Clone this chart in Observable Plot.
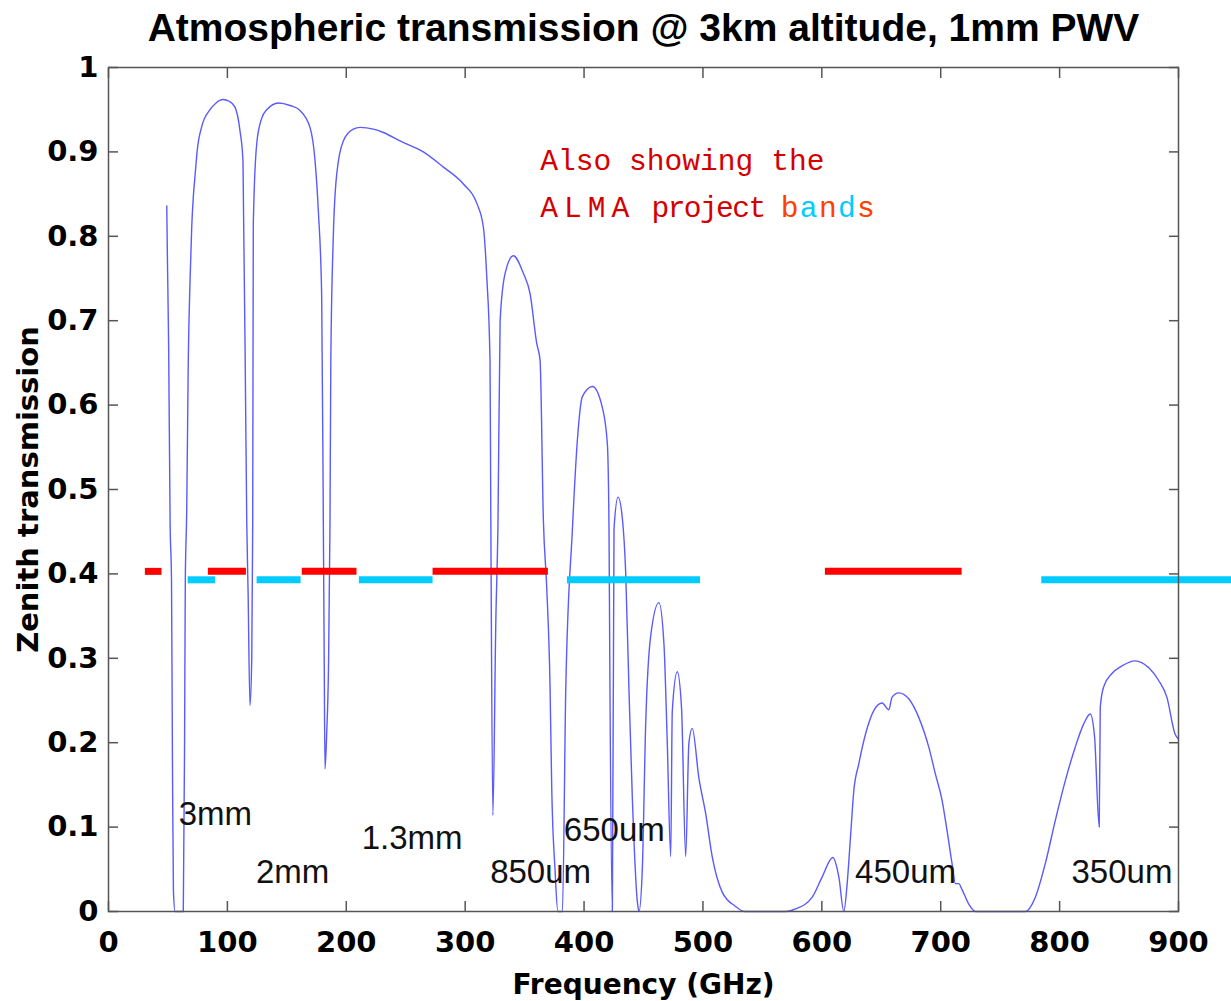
<!DOCTYPE html>
<html>
<head>
<meta charset="utf-8">
<script src="https://cdn.jsdelivr.net/npm/d3@7"></script>
<script src="https://cdn.jsdelivr.net/npm/@observablehq/plot@0.6"></script>
<style>
  body { margin: 0; background: #fff; }
  svg { display: block; }
</style>
</head>
<body>
<div id="chart"></div>
<script>
// ---------- data ----------
const titleText = "Atmospheric transmission @ 3km altitude, 1mm PWV";
const xLabel = "Frequency (GHz)";
const yLabel = "Zenith transmission";

const xTicks = [0, 100, 200, 300, 400, 500, 600, 700, 800, 900];
const yTicks = [0, 0.1, 0.2, 0.3, 0.4, 0.5, 0.6, 0.7, 0.8, 0.9, 1];

// transmission curve (GHz, fraction)
const freq = [
  49.0, 49.5, 50.6, 51.8, 53.0, 53.8, 54.6, 56.0, 62.9, 64.0, 64.6, 65.8, 67.1, 68.6, 70.0, 71.5, 73.0, 74.5, 78.4, 85.4,
  90.5, 96.3, 101.5, 106.4, 110.6, 113.1, 113.6, 114.9, 116.3, 117.4, 119.0, 120.5, 121.3, 121.8, 124.7, 128.9, 133.1, 142.9, 152.7, 161.1,
  169.5, 173.7, 176.5, 179.3, 180.7, 181.5, 182.1, 183.6, 185.0, 186.3, 187.0, 189.1, 192.0, 197.5, 205.9, 211.6, 222.8, 231.2, 245.2, 264.8,
  281.7, 298.5, 309.8, 315.3, 318.2, 320.9, 321.6, 323.3, 325.8, 327.6, 329.4, 333.6, 340.5, 349.0, 354.6, 360.2, 363.0, 365.8, 368.6, 371.4,
  372.8, 375.6, 378.0, 381.8, 384.6, 390.2, 394.4, 398.6, 407.0, 415.4, 419.6, 421.0, 421.6, 423.8, 425.2, 428.6, 432.2, 435.0, 437.8, 440.6,
  444.8, 446.2, 449.0, 451.8, 456.0, 463.0, 467.2, 470.0, 472.9, 474.2, 478.4, 482.0, 485.5, 488.2, 491.0, 496.6, 502.3, 507.8, 516.2, 527.5,
  535.0, 570.0, 577.9, 591.9, 600.3, 609.2, 614.3, 618.5, 621.3, 624.1, 626.9, 631.1, 636.7, 643.7, 650.7, 656.3, 659.1, 664.7, 673.1, 681.5,
  689.9, 695.5, 701.1, 705.3, 709.5, 712.4, 715.1, 717.9, 723.5, 729.2, 771.2, 779.6, 788.0, 796.4, 804.8, 813.2, 820.2, 825.8, 829.4, 833.3,
  834.2, 837.0, 844.0, 852.4, 863.6, 874.8, 883.2, 890.2, 897.2, 899.5
];
const trans = [
  0.836, 0.779, 0.669, 0.463, 0.392, 0.175, 0.025, 0.0, 0.0, 0.203, 0.392, 0.475, 0.653, 0.748, 0.811, 0.850, 0.875, 0.900, 0.930, 0.950,
  0.958, 0.962, 0.960, 0.953, 0.925, 0.890, 0.827, 0.665, 0.460, 0.380, 0.244, 0.300, 0.460, 0.815, 0.910, 0.940, 0.950, 0.958, 0.955, 0.949,
  0.929, 0.890, 0.830, 0.730, 0.460, 0.286, 0.169, 0.214, 0.286, 0.460, 0.653, 0.800, 0.874, 0.913, 0.927, 0.929, 0.927, 0.923, 0.913, 0.900,
  0.882, 0.862, 0.839, 0.811, 0.751, 0.653, 0.460, 0.114, 0.345, 0.460, 0.700, 0.756, 0.777, 0.756, 0.732, 0.673, 0.653, 0.463, 0.384, 0.266,
  0.147, 0.049, 0.0, 0.0, 0.262, 0.453, 0.559, 0.610, 0.622, 0.597, 0.554, 0.453, 0.305, 0.0, 0.453, 0.491, 0.466, 0.402, 0.262, 0.135,
  0.012, 0.0, 0.050, 0.220, 0.326, 0.366, 0.317, 0.200, 0.065, 0.237, 0.284, 0.241, 0.065, 0.200, 0.217, 0.158, 0.116, 0.065, 0.023, 0.006,
  0.0, 0.0, 0.003, 0.017, 0.041, 0.064, 0.041, 0.0, 0.033, 0.088, 0.143, 0.175, 0.210, 0.238, 0.247, 0.239, 0.254, 0.259, 0.252, 0.230,
  0.195, 0.163, 0.132, 0.096, 0.057, 0.033, 0.033, 0.026, 0.009, 0.0, 0.0, 0.017, 0.057, 0.108, 0.155, 0.195, 0.222, 0.234, 0.207, 0.100,
  0.242, 0.266, 0.282, 0.291, 0.297, 0.289, 0.274, 0.254, 0.210, 0.205
];

// ALMA bands (GHz) drawn as short bars
const redBandLo = [31, 84, 163, 273, 603];
const redBandHi = [45, 116, 209, 370, 718];
const redBandLevel = 0.403;
const cyanBandLo = [67, 125, 211, 386, 785];
const cyanBandHi = [90, 162, 273, 498, 950];
const cyanBandLevel = 0.393;

// wavelength labels (text, GHz, transmission of baseline)
const waveLabels = ["3mm", "2mm", "1.3mm", "850um", "650um", "450um", "350um"];
const waveX = [59, 124, 213, 321, 383, 628, 810];
const waveY = [0.102, 0.0335, 0.0746, 0.0335, 0.084, 0.0335, 0.0335];

// annotation
const noteLine1 = "Also showing the";
const noteWordA = "ALMA";
const noteWordB = "project ";
const noteWordC = "bands";
const noteX = 363.6;
const noteY = [0.878, 0.8226];

// ---------- build ----------
const curve = freq.map((f, i) => ({f, t: trans[i]}));
const redBands = redBandLo.map((lo, i) => ({lo, hi: redBandHi[i], level: redBandLevel}));
const cyanBands = cyanBandLo.map((lo, i) => ({lo, hi: cyanBandHi[i], level: cyanBandLevel}));
const labels = waveLabels.map((text, i) => ({text, x: waveX[i], y: waveY[i]}));

const axisFont = "DejaVu Sans";
const frameColor = "#555";

const plot = Plot.plot({
  width: 1231,
  height: 1001,
  marginLeft: 108,
  marginRight: 53,
  marginTop: 67,
  marginBottom: 90,
  x: {domain: [0, 900]},
  y: {domain: [0, 1]},
  style: {background: "#fff", fontFamily: axisFont, color: "#000"},
  marks: [
    Plot.line(curve, {x: "f", y: "t", stroke: "#5a5aff", strokeWidth: 1.4, curve: "monotone-x"}),
    Plot.ruleY(redBands, {y: "level", x1: "lo", x2: "hi", stroke: "#ff0000", strokeWidth: 7}),
    Plot.ruleY(cyanBands, {y: "level", x1: "lo", x2: "hi", stroke: "#00ccff", strokeWidth: 7}),
    Plot.text(labels, {x: "x", y: "y", text: "text", textAnchor: "start", lineAnchor: "bottom",
      fontSize: 33, fontFamily: "Liberation Sans", fill: "#111"}),
    Plot.frame({stroke: frameColor, strokeWidth: 1.5}),
    Plot.axisX(xTicks, {anchor: "bottom", tickSize: -10, tickPadding: 30, tickFormat: d => String(d),
      label: null, stroke: frameColor, strokeWidth: 1.5, fill: "#000", fontSize: 29, fontWeight: "bold", fontFamily: axisFont}),
    Plot.axisX(xTicks, {anchor: "top", tickSize: -10, tickFormat: () => "", label: null, stroke: frameColor, strokeWidth: 1.5}),
    Plot.axisY(yTicks, {anchor: "left", tickSize: -10, tickPadding: 20, tickFormat: d => String(d),
      label: null, stroke: frameColor, strokeWidth: 1.5, fill: "#000", fontSize: 29, fontWeight: "bold", fontFamily: axisFont}),
    Plot.axisY(yTicks, {anchor: "right", tickSize: -10, tickFormat: () => "", label: null, stroke: frameColor, strokeWidth: 1.5}),
    Plot.text([titleText], {frameAnchor: "top", textAnchor: "middle", lineAnchor: "bottom", dy: -27,
      fontSize: 39, fontWeight: "bold", fontFamily: "Liberation Sans", fill: "#000"}),
    Plot.text([xLabel], {frameAnchor: "bottom", textAnchor: "middle", lineAnchor: "bottom", dy: 82,
      fontSize: 28, fontWeight: "bold", fontFamily: axisFont, fill: "#000"}),
    Plot.text([yLabel], {frameAnchor: "left", textAnchor: "middle", lineAnchor: "middle", dx: -80, rotate: -90,
      fontSize: 29, fontWeight: "bold", fontFamily: axisFont, fill: "#000"})
  ]
});

document.getElementById("chart").appendChild(plot);

// multi-coloured annotation placed through the plot's scales
const xs = plot.scale("x"), ys = plot.scale("y");
const svg = d3.select(plot);
const note = svg.append("g")
  .attr("font-family", "Liberation Mono, monospace")
  .attr("font-size", 29.6)
  .attr("text-anchor", "start");
note.append("text")
  .attr("x", xs.apply(noteX)).attr("y", ys.apply(noteY[0]))
  .attr("fill", "#d40000").text(noteLine1);
const t2 = note.append("text")
  .attr("x", xs.apply(noteX)).attr("y", ys.apply(noteY[1]));
t2.append("tspan").attr("fill", "#d40000").attr("letter-spacing", 6).text(noteWordA);
t2.append("tspan").attr("fill", "#d40000").attr("letter-spacing", -1.6).text(" " + noteWordB);
noteWordC.split("").forEach((c, i) => {
  t2.append("tspan").attr("fill", i % 2 ? "#00ccff" : "#ff4000").attr("letter-spacing", 1.3).text(c);
});
</script>
</body>
</html>
